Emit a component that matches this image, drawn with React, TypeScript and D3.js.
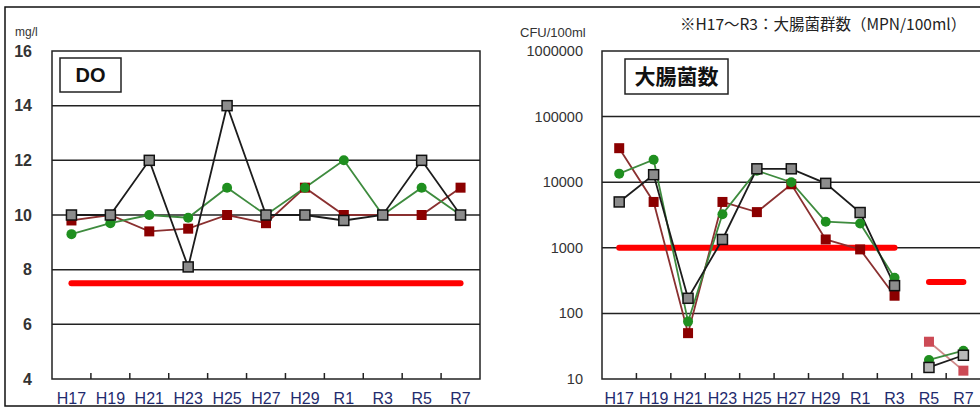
import React from "react";
import * as d3 from "d3";

const categories = ["H17", "H19", "H21", "H23", "H25", "H27", "H29", "R1", "R3", "R5", "R7"];

// DO (mg/l)
const doGray = [10, 10, 12, 8.1, 14, 10, 10, 9.8, 10, 12, 10];
const doGreen = [9.3, 9.7, 10, 9.9, 11, 10, 11, 12, 10, 11, 10];
const doRed = [9.8, 10, 9.4, 9.5, 10, 9.7, 11, 10, 10, 10, 11];
const doStandard = 7.5;
const doTicks = [4, 6, 8, 10, 12, 14, 16];

// E. coli (CFU/100ml)
const ecGray = [5000, 13000, 170, 1340, 16000, 16000, 9600, 3450, 265, 15, 23];
const ecGreen = [13500, 22000, 75, 3250, 15000, 10000, 2500, 2350, 350, 19.5, 27];
const ecRed = [33000, 5000, 50, 5000, 3500, 9300, 1340, 945, 186, 37, 13.4];
const ecTicks = [10, 100, 1000, 10000, 100000, 1000000];
const ecStandardOld = { value: 1000, from: "H17", to: "R3" };
const ecStandardNew = { value: 300, from: "R5", to: "R7" };
const splitAt = 9; // R5 onward is a new measurement method

const LATIN = "'Liberation Sans', Arial, sans-serif";
const CJK = "'Noto Sans CJK JP', sans-serif";

type SeriesStyle = { line: string; fill: string; stroke: string; shape: "sq" | "ci" };

function Markers({ xs, ys, st }: { xs: number[]; ys: number[]; st: SeriesStyle }) {
  return (
    <g>
      {xs.map((x, i) =>
        st.shape === "sq" ? (
          <rect key={i} x={x - 5} y={ys[i] - 5} width={10} height={10} fill={st.fill} stroke={st.stroke} strokeWidth={st.stroke === "none" ? 0 : 1.5} />
        ) : (
          <circle key={i} cx={x} cy={ys[i]} r={5} fill={st.fill} />
        )
      )}
    </g>
  );
}

export default function App() {
  const xL = d3.scaleBand<string>().domain(categories).range([52, 480]);
  const yL = d3.scaleLinear().domain([4, 16]).range([379, 51]);
  const xR = d3.scaleBand<string>().domain(categories).range([602, 980.6]);
  const yR = d3.scaleLog().domain([10, 1e6]).range([379, 51]);

  const cxL = (c: string) => (xL(c) as number) + xL.bandwidth() / 2;
  const cxR = (c: string) => (xR(c) as number) + xR.bandwidth() / 2;

  const lineL = d3
    .line<number>()
    .x((_, i) => cxL(categories[i]))
    .y((d) => yL(d));

  const lineR = (idx: number[], vals: number[]) =>
    d3
      .line<number>()
      .x((i) => cxR(categories[i]))
      .y((i) => yR(vals[i]))(idx) as string;

  const first = d3.range(0, splitAt);
  const second = d3.range(splitAt, categories.length);

  const gray: SeriesStyle = { line: "#1c1c1c", fill: "#8c8c8c", stroke: "#111", shape: "sq" };
  const green: SeriesStyle = { line: "#3e8b3e", fill: "#1f8f1f", stroke: "none", shape: "ci" };
  const red: SeriesStyle = { line: "#8a3030", fill: "#8b0000", stroke: "none", shape: "sq" };
  const grayNew: SeriesStyle = { line: "#1c1c1c", fill: "#b8b8b8", stroke: "#111", shape: "sq" };
  const redNew: SeriesStyle = { line: "#d08a8a", fill: "#cc4a55", stroke: "none", shape: "sq" };

  const leftSeries: [number[], SeriesStyle][] = [
    [doRed, red],
    [doGreen, green],
    [doGray, gray],
  ];
  const rightSeries: [number[], SeriesStyle, SeriesStyle][] = [
    [ecRed, red, redNew],
    [ecGreen, green, green],
    [ecGray, gray, grayNew],
  ];

  const leftTickXs = categories.slice(1).map((c) => xL(c) as number);
  const rightTickXs = categories.slice(1).map((c) => xR(c) as number);

  return (
    <svg width={980} height={407} style={{ position: "absolute", left: 0, top: 0, background: "#fff" }}>
      {/* outer frame */}
      <path d="M980,7 H5 V406 H980" fill="none" stroke="#111" strokeWidth={1.5} />

      {/* ===== Left chart: DO ===== */}
      <text x={15} y={36} fontFamily={LATIN} fontSize={12} fill="#333">mg/l</text>
      {doTicks.map((t) => (
        <text key={t} x={32} y={yL(t) + 5.5} textAnchor="end" fontFamily={LATIN} fontSize={16} fontWeight="bold" fill="#333">
          {t}
        </text>
      ))}
      {doTicks.slice(1, -1).map((t) => (
        <line key={t} x1={52} x2={480} y1={yL(t)} y2={yL(t)} stroke="#222" strokeWidth={1.5} />
      ))}
      <rect x={52} y={51} width={428} height={328} fill="none" stroke="#222" strokeWidth={1.5} />
      {leftTickXs.map((x, i) => (
        <line key={i} x1={x} x2={x} y1={379} y2={373} stroke="#222" strokeWidth={1.5} />
      ))}
      {categories.map((c) => (
        <text key={c} x={cxL(c)} y={404} textAnchor="middle" fontFamily={LATIN} fontSize={16} fill="#1f2b6e">
          {c}
        </text>
      ))}
      <line
        x1={cxL(categories[0])}
        x2={cxL(categories[categories.length - 1])}
        y1={yL(doStandard)}
        y2={yL(doStandard)}
        stroke="#ff0000"
        strokeWidth={6}
        strokeLinecap="round"
      />
      {leftSeries.map(([vals, st], k) => (
        <path key={k} d={lineL(vals) as string} fill="none" stroke={st.line} strokeWidth={1.8} />
      ))}
      {leftSeries.map(([vals, st], k) => (
        <Markers key={k} xs={categories.map(cxL)} ys={vals.map((v) => yL(v))} st={st} />
      ))}
      <rect x={60} y={58} width={61} height={34} fill="#fff" stroke="#222" strokeWidth={1.5} />
      <text x={90.5} y={82} textAnchor="middle" fontFamily={LATIN} fontSize={20} fontWeight="bold" fill="#111">DO</text>

      {/* ===== Right chart: E. coli ===== */}
      <text x={520} y={37} fontFamily={LATIN} fontSize={13} fill="#333">CFU/100ml</text>
      <text x={680} y={30} fontFamily={CJK} fontSize={15.5} fill="#222">※H17～R3：大腸菌群数（MPN/100ml）</text>
      {ecTicks.map((t) => (
        <text key={t} x={583} y={yR(t) + 5} textAnchor="end" fontFamily={LATIN} fontSize={14.5} fill="#333">
          {t}
        </text>
      ))}
      {ecTicks.slice(1, -1).map((t) => (
        <line key={t} x1={602} x2={980} y1={yR(t)} y2={yR(t)} stroke="#222" strokeWidth={1.5} />
      ))}
      <path d="M981,51 H602 V379 H981" fill="none" stroke="#222" strokeWidth={1.5} />
      {rightTickXs.map((x, i) => (
        <line key={i} x1={x} x2={x} y1={379} y2={373} stroke="#222" strokeWidth={1.5} />
      ))}
      {categories.map((c) => (
        <text key={c} x={cxR(c)} y={404} textAnchor="middle" fontFamily={LATIN} fontSize={16} fill="#1f2b6e">
          {c}
        </text>
      ))}
      {[ecStandardOld, ecStandardNew].map((s, i) => (
        <line
          key={i}
          x1={cxR(s.from)}
          x2={cxR(s.to)}
          y1={yR(s.value)}
          y2={yR(s.value)}
          stroke="#ff0000"
          strokeWidth={6}
          strokeLinecap="round"
        />
      ))}
      {rightSeries.map(([vals, st, stNew], k) => (
        <g key={k}>
          <path d={lineR(first, vals)} fill="none" stroke={st.line} strokeWidth={1.8} />
          <path d={lineR(second, vals)} fill="none" stroke={stNew.line} strokeWidth={1.8} />
        </g>
      ))}
      {rightSeries.map(([vals, st, stNew], k) => (
        <g key={k}>
          <Markers xs={first.map((i) => cxR(categories[i]))} ys={first.map((i) => yR(vals[i]))} st={st} />
          <Markers xs={second.map((i) => cxR(categories[i]))} ys={second.map((i) => yR(vals[i]))} st={stNew} />
        </g>
      ))}
      <rect x={625} y={59} width={103} height={35} fill="#fff" stroke="#222" strokeWidth={1.5} />
      <text x={676.5} y={84} textAnchor="middle" fontFamily={CJK} fontSize={21} fontWeight="bold" fill="#111">大腸菌数</text>
    </svg>
  );
}
